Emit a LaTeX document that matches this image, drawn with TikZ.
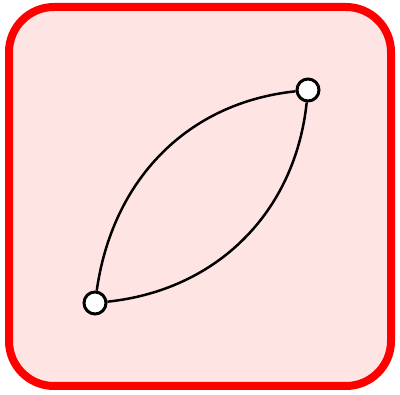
\documentclass[tikz,border=0pt]{standalone}
\definecolor{framered}{HTML}{FF0000}
\definecolor{panelpink}{HTML}{FFE4E4}
\begin{document}
\begin{tikzpicture}[x=1pt,y=-1pt,
  vertex/.style={circle,draw=black,fill=white,line width=3pt,minimum size=22pt,inner sep=0pt},
  edge/.style={draw=black,line width=2.5pt}]
\useasboundingbox (0,0) rectangle (400,395);
\draw[framered,fill=panelpink,line width=8pt,rounded corners=45pt] (9,7) rectangle (391,386);
\node[vertex] (a) at (95,303) {};
\node[vertex] (b) at (308,90) {};
\draw[edge] (a) to[out=82,in=186] (b);
\draw[edge] (a) to[out=6,in=-96] (b);
\end{tikzpicture}
\end{document}
